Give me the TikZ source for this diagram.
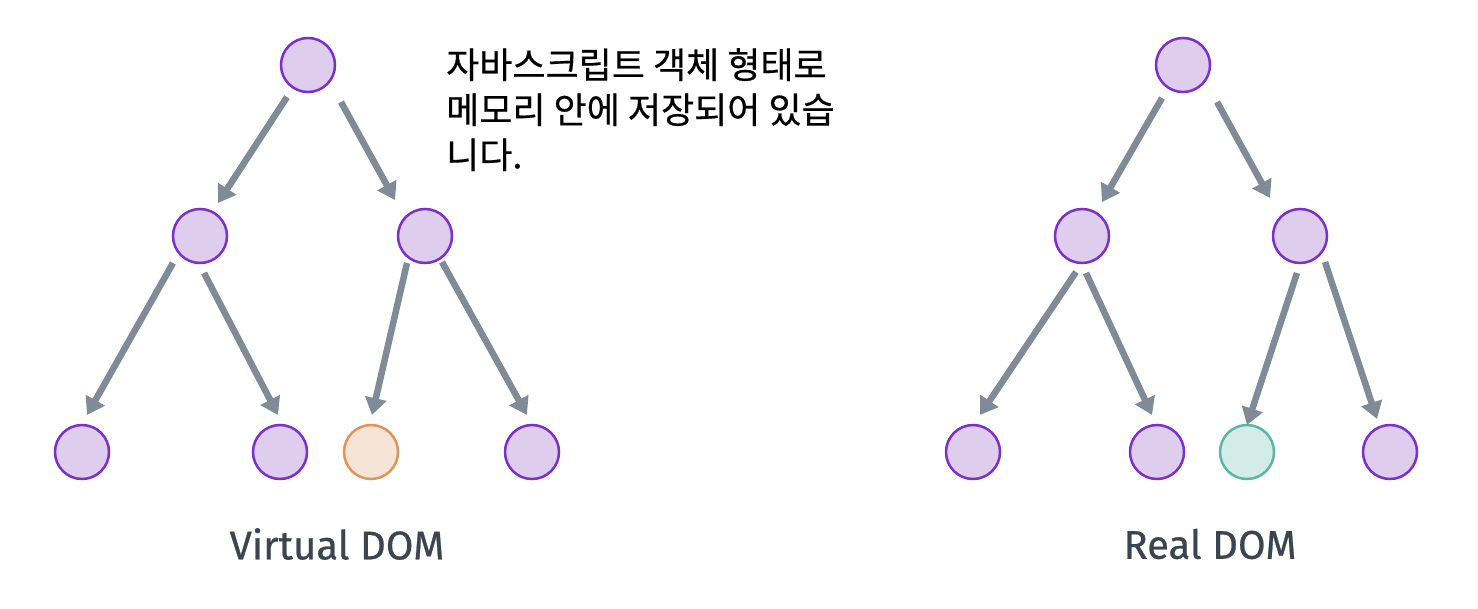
\documentclass[tikz,border=0pt]{standalone}
\usepackage{fontspec}
\setmainfont{Fira Sans}[UprightFeatures={FakeBold=0.6}]
\newfontfamily\krfont{Noto Sans CJK KR}[UprightFeatures={FakeBold=0.5}]
\usetikzlibrary{arrows.meta,calc}
\definecolor{vfill}{HTML}{DFCDEE}
\definecolor{vline}{HTML}{7B2FCF}
\definecolor{ofill}{HTML}{F6E4D6}
\definecolor{oline}{HTML}{E09457}
\definecolor{tfill}{HTML}{D4ECE7}
\definecolor{tline}{HTML}{5CB5A5}
\definecolor{arrc}{HTML}{7F8B97}
\definecolor{lbl}{HTML}{3A4550}
\begin{document}
\begin{tikzpicture}[x=1pt,y=-1pt,
  vnode/.style={circle,draw=vline,fill=vfill,line width=2.5pt,minimum size=54pt,inner sep=0pt},
  onode/.style={vnode,draw=oline,fill=ofill},
  tnode/.style={vnode,draw=tline,fill=tfill},
  arr/.style={draw=arrc,line width=6.5pt,-{Triangle[length=17pt,width=21pt]}},
  lab/.style={font=\fontsize{40}{44}\selectfont,text=lbl}]
\useasboundingbox (0,0) rectangle (1478,608);
% left tree
\node[vnode] (vr) at (308,65) {};
\node[vnode] (va) at (200,236) {};
\node[vnode] (vb) at (425,236) {};
\node[vnode] (v1) at (82,452) {};
\node[vnode] (v2) at (280,452) {};
\node[onode] (v3) at (371,452) {};
\node[vnode] (v4) at (532,452) {};
\draw[arr] ($(vr)+(-21,32)$) -- ($(va)+(18,-33)$);
\draw[arr] ($(vr)+(33,37)$) -- ($(vb)+(-30,-36)$);
\draw[arr] ($(va)+(-27,27)$) -- ($(v1)+(5,-37)$);
\draw[arr] ($(va)+(4,37)$) -- ($(v2)+(-2,-37)$);
\draw[arr] ($(vb)+(-18,27)$) -- ($(v3)+(1,-37)$);
\draw[arr] ($(vb)+(17,26)$) -- ($(v4)+(-5,-37)$);
% right tree
\node[vnode] (rr) at (1183,65) {};
\node[vnode] (ra) at (1082,236) {};
\node[vnode] (rb) at (1300,236) {};
\node[vnode] (r1) at (973,452) {};
\node[vnode] (r2) at (1157,452) {};
\node[tnode] (r3) at (1247,452) {};
\node[vnode] (r4) at (1390,452) {};
\draw[arr] ($(rr)+(-21,33)$) -- ($(ra)+(20,-34)$);
\draw[arr] ($(rr)+(34,37)$) -- ($(rb)+(-30,-38)$);
\draw[arr] ($(ra)+(-6,36)$) -- ($(r1)+(7,-37)$);
\draw[arr] ($(ra)+(4,37)$) -- ($(r2)+(-5,-37)$);
\draw[arr] ($(rb)+(-3,37)$) -- ($(r3)+(0,-27)$);
\draw[arr] ($(rb)+(25,26)$) -- ($(r4)+(-13,-33)$);
% texts
\node[anchor=north west,align=left,inner sep=0pt,font=\krfont\fontsize{36}{45}\selectfont] (note) at (446,48)
  {자바스크립트 객체 형태로\\메모리 안에 저장되어 있습\\니다.};
\node[lab] (vlab) at (337,544) {Virtual DOM};
\node[lab] (rlab) at (1210,544) {Real DOM};
\end{tikzpicture}
\end{document}
